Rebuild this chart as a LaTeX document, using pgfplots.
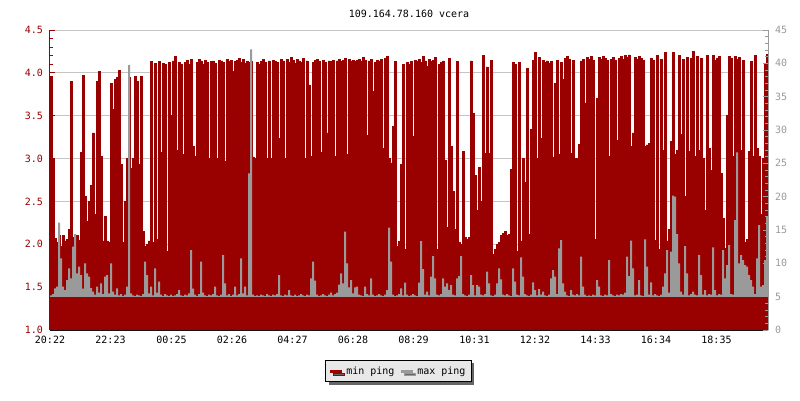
\documentclass[border=0pt]{standalone}
\usepackage{fontspec}
\setmainfont{DejaVu Sans Mono}
\usepackage{pgfplots}
\pgfplotsset{compat=1.18}
\usepackage{pgfplotstable}
\usetikzlibrary{shadows}
\definecolor{minred}{HTML}{990000}
\definecolor{maxgray}{HTML}{9A9A9A}
\definecolor{gridgray}{HTML}{C4C4C4}
\definecolor{leggray}{HTML}{E8E8E8}
\definecolor{shadowgray}{HTML}{666666}

\pgfplotstableread{
t minp maxp
0 3.96 5.2
4 3.00 5.4
8 2.07 6.25
12 2.02 6.5
16 2.10 16.1
20 1.98 10.75
24 2.10 6.5
28 2.04 6.0
32 2.06 7.5
36 2.17 9.25
40 3.90 7.75
44 2.08 12.5
48 2.06 14.4
52 2.10 8.5
56 2.05 9.5
60 3.07 8.25
64 3.97 6.2
68 2.56 10.0
72 2.27 8.5
76 2.50 8.0
80 2.69 6.3
84 3.30 5.75
88 2.35 5.3
92 3.90 6.5
96 4.02 5.6
100 3.03 7.0
104 2.04 5.4
108 2.33 8.0
112 2.04 8.25
116 2.02 5.5
120 3.88 10.0
124 3.57 5.75
128 3.92 5.3
132 3.95 6.25
136 4.03 5.2
140 2.93 5.4
144 2.02 5.1
148 2.50 5.3
152 3.00 6.5
156 3.95 39.75
160 2.89 5.5
164 3.00 5.2
168 3.96 5.1
172 3.90 5.3
176 2.93 5.2
180 3.96 5.1
184 2.15 5.4
188 1.98 10.25
192 2.00 8.25
196 2.04 5.5
200 4.13 6.5
204 2.02 5.2
208 4.11 9.25
212 2.06 5.6
216 4.13 7.25
220 3.07 5.3
224 4.11 5.1
228 4.10 5.4
232 1.92 5.2
236 4.12 5.1
240 3.50 5.3
244 4.14 5.1
248 4.19 5.2
252 3.10 5.4
256 4.12 6.0
260 4.10 5.2
264 3.05 5.1
268 4.12 5.3
272 4.15 5.2
276 4.10 5.5
280 4.16 12.0
284 3.14 6.2
288 3.03 5.3
292 4.12 5.1
296 4.16 5.4
300 4.14 10.25
304 4.10 5.6
308 4.15 5.2
312 4.12 5.1
316 3.00 5.3
320 4.13 5.2
324 4.14 5.4
328 4.11 6.5
332 3.00 5.2
336 4.15 5.1
340 4.14 5.3
344 4.12 11.25
348 2.97 7.0
352 4.16 5.2
356 4.13 5.4
360 4.15 5.1
364 4.02 5.3
368 4.13 6.5
372 4.15 5.2
376 4.17 5.4
380 4.12 10.75
384 4.16 5.5
388 4.11 6.5
392 4.13 5.2
396 4.12 23.5
400 4.13 42.1
404 3.02 5.3
408 3.00 5.1
412 4.12 5.2
416 4.10 5.1
420 4.13 5.3
424 4.16 5.2
428 4.12 5.1
432 3.00 5.4
436 4.14 5.2
440 3.00 5.1
444 4.15 5.3
448 4.13 5.2
452 4.12 5.4
456 3.24 8.25
460 4.16 5.2
464 4.14 5.1
468 3.00 5.3
472 4.16 5.2
476 4.12 6.0
480 4.18 5.2
484 4.15 5.1
488 4.11 5.3
492 4.16 5.1
496 4.14 5.2
500 4.12 5.4
504 4.17 5.2
508 3.00 5.1
512 4.14 5.3
516 3.86 5.2
520 3.03 7.75
524 4.12 10.25
528 4.15 7.4
532 4.16 5.3
536 4.13 5.1
540 3.07 5.2
544 4.15 5.4
548 4.12 5.2
552 3.30 5.1
556 4.14 5.3
560 4.13 5.6
564 4.15 5.2
568 3.03 5.4
572 4.14 5.6
576 4.16 6.8
580 4.13 8.5
584 4.15 7.0
588 4.17 14.75
592 3.05 10.0
596 4.16 6.4
600 4.14 7.5
604 4.15 5.5
608 4.13 6.4
612 4.15 6.5
616 4.16 5.3
620 4.14 5.2
624 4.18 5.1
628 4.15 6.5
632 3.27 5.4
636 4.14 5.2
640 4.16 7.75
644 3.78 5.3
648 4.12 5.1
652 4.15 5.2
656 4.14 5.4
660 4.16 5.2
664 3.12 5.1
668 4.17 5.3
672 4.19 6.0
676 3.00 15.35
680 2.95 10.25
684 3.38 5.3
688 4.13 5.1
692 1.98 5.2
696 2.03 5.4
700 2.93 6.25
704 4.10 5.2
708 1.94 7.1
712 4.12 5.3
716 4.10 5.1
720 4.13 5.2
724 3.26 5.4
728 4.15 5.2
732 4.13 5.1
736 4.16 7.1
740 4.12 13.35
744 4.19 9.15
748 4.14 5.3
752 4.08 5.75
756 4.16 5.2
760 4.13 8.0
764 4.15 11.1
768 4.18 7.75
772 1.94 5.3
776 4.10 5.2
780 4.12 5.4
784 4.14 7.75
788 2.98 6.5
792 2.20 7.0
796 4.17 6.0
800 3.14 6.75
804 2.62 5.3
808 2.17 5.2
812 4.13 7.75
816 2.02 8.1
820 2.00 11.1
824 3.08 5.4
828 2.08 5.2
832 2.06 5.1
836 2.08 5.3
840 4.14 8.25
844 3.53 6.75
848 2.80 5.2
852 2.40 6.75
856 2.90 6.5
860 2.50 5.3
864 4.20 5.2
868 3.06 5.4
872 4.07 8.75
876 3.06 7.0
880 4.15 5.2
884 1.88 5.1
888 1.94 5.3
892 2.00 7.0
896 2.02 9.25
900 2.10 7.6
904 2.13 5.3
908 2.15 5.2
912 2.10 5.4
916 2.12 5.2
920 2.87 5.1
924 4.12 9.25
928 4.10 7.25
932 1.92 5.3
936 4.12 5.2
940 2.04 10.9
944 3.00 8.0
948 2.72 5.4
952 4.05 5.2
956 2.12 5.1
960 3.34 5.3
964 4.15 7.15
968 4.24 6.0
972 3.00 5.2
976 4.18 6.15
980 3.24 5.3
984 4.15 5.75
988 4.12 5.2
992 4.14 5.1
996 4.11 5.3
1000 4.13 7.75
1004 3.02 9.0
1008 3.88 8.0
1012 4.15 5.4
1016 3.05 12.25
1020 4.12 13.5
1024 3.92 7.0
1028 4.17 5.75
1032 4.19 5.2
1036 4.16 5.1
1040 3.06 6.0
1044 4.15 5.3
1048 3.00 5.2
1052 3.00 5.4
1056 3.17 5.2
1060 4.14 11.0
1064 4.16 6.5
1068 3.65 5.3
1072 4.18 5.1
1076 4.16 5.2
1080 4.19 5.1
1084 4.15 5.3
1088 2.06 5.2
1092 3.70 7.5
1096 4.18 6.5
1100 4.16 5.2
1104 4.19 5.1
1108 4.17 5.3
1112 4.15 5.2
1116 3.03 10.5
1120 4.16 5.4
1124 4.18 5.2
1128 4.15 5.1
1132 3.21 5.3
1136 4.17 5.2
1140 4.19 5.4
1144 4.16 5.3
1148 4.20 5.6
1152 4.18 11.0
1156 4.21 8.1
1160 3.14 13.4
1164 3.30 9.25
1168 4.18 5.2
1172 4.16 5.3
1176 4.19 7.5
1180 4.17 5.2
1184 4.15 5.1
1188 3.14 13.6
1192 3.16 9.5
1196 3.18 5.3
1200 4.17 7.15
1204 4.15 5.2
1208 2.05 5.4
1212 4.20 5.2
1216 1.94 5.1
1220 4.16 5.3
1224 3.10 6.5
1228 4.24 8.5
1232 2.04 12.0
1236 2.17 5.6
1240 3.20 11.75
1244 4.24 20.15
1248 3.05 20.0
1252 3.10 14.4
1256 4.20 10.0
1260 3.28 5.75
1264 4.16 5.3
1268 2.56 12.6
1272 4.18 8.5
1276 3.08 5.2
1280 4.17 5.4
1284 4.25 5.75
1288 3.03 5.3
1292 4.19 5.2
1296 3.10 11.25
1300 4.17 8.25
1304 3.00 5.3
1308 2.40 6.0
1312 4.20 5.2
1316 3.12 5.4
1320 2.86 5.3
1324 4.20 12.4
1328 4.15 6.0
1332 4.17 5.2
1336 4.19 5.4
1340 2.83 5.3
1344 2.30 12.0
1348 1.95 7.75
1352 3.50 9.75
1356 4.19 12.75
1360 4.17 5.4
1364 3.03 5.3
1368 4.19 16.5
1372 4.16 26.65
1376 4.18 10.0
1380 3.10 11.25
1384 4.15 10.5
1388 2.02 9.75
1392 2.06 9.5
1396 3.08 8.25
1400 4.13 7.5
1404 3.03 6.5
1408 4.20 5.4
1412 3.12 10.75
1416 3.03 15.75
1420 2.35 6.5
1424 3.00 6.75
1428 4.10 10.5
1432 4.22 17.0
1436 4.22 17.0
}\pingdata

\begin{document}
\begin{tikzpicture}[font=\fontsize{10}{12}\selectfont]
\path[use as bounding box] (0pt,0pt) rectangle (800pt,400pt);
\begin{axis}[
  at={(50pt,70pt)}, anchor=south west,
  scale only axis, width=718pt, height=300pt,
  xmin=0, xmax=1436, ymin=1, ymax=4.5,
  axis x line*=bottom, axis y line*=left,
  x axis line style={black, -, line width=1pt},
  y axis line style={minred, -, line width=1pt},
  axis on top,
  tick align=inside,
  major tick length=5pt, minor tick length=3pt,
  xtick={0,121,243,364,485,606,727,849,970,1091,1212,1333},
  xticklabels={20:22,22:23,00:25,02:26,04:27,06:28,08:29,10:31,12:32,14:33,16:34,18:35},
  xtick style={black, line width=0.8pt},
  xticklabel style={black, yshift=-3pt},
  ytick={1,1.5,2,2.5,3,3.5,4,4.5},
  minor y tick num=4,
  ytick style={minred, line width=0.8pt},
  yticklabel style={minred, xshift=-3.5pt, /pgf/number format/.cd, fixed, fixed zerofill, precision=1},
  tick label style={font=\fontsize{10}{12}\selectfont},
  /pgf/number format/assume math mode=true,
  legend image code/.code={\fill[#1] (0pt,-1pt) rectangle (11pt,1pt);},
  legend columns=2,
  legend style={at={(0.4854,-0.1367)}, anchor=center, draw=black, fill=leggray,
    line width=0.8pt, font=\fontsize{10}{12}\selectfont,
    inner xsep=4pt, inner ysep=4pt,
    nodes={inner xsep=2pt, inner ysep=2pt},
    drop shadow={shadow xshift=3pt, shadow yshift=-3pt, fill=shadowgray, opacity=1},
    /tikz/every odd column/.append style={column sep=3pt},
    /tikz/every even column/.append style={column sep=4pt}},
]
\addplot[gridgray, line width=0.8pt, forget plot] coordinates {(0,1.5) (1436,1.5)};
\addplot[gridgray, line width=0.8pt, forget plot] coordinates {(0,2.0) (1436,2.0)};
\addplot[gridgray, line width=0.8pt, forget plot] coordinates {(0,2.5) (1436,2.5)};
\addplot[gridgray, line width=0.8pt, forget plot] coordinates {(0,3.0) (1436,3.0)};
\addplot[gridgray, line width=0.8pt, forget plot] coordinates {(0,3.5) (1436,3.5)};
\addplot[gridgray, line width=0.8pt, forget plot] coordinates {(0,4.0) (1436,4.0)};
\addplot[gridgray, line width=1.2pt, forget plot] coordinates {(0,4.5) (1436,4.5)};
\addplot[const plot, fill=minred, draw=minred, line width=0.5pt, forget plot] table[x=t, y=minp] {\pingdata} \closedcycle;
\addlegendimage{minred}
\addlegendentry{min ping}
\addlegendimage{maxgray}
\addlegendentry{max ping\hspace{12pt}}
\end{axis}
\begin{axis}[
  at={(50pt,70pt)}, anchor=south west,
  scale only axis, width=718pt, height=300pt,
  xmin=0, xmax=1436, ymin=0, ymax=45,
  axis x line=none, axis y line*=right,
  y axis line style={maxgray, -, line width=1pt},
  axis on top,
  tick align=inside,
  major tick length=5pt, minor tick length=3pt,
  ytick={0,5,10,15,20,25,30,35,40,45},
  minor y tick num=4,
  ytick style={maxgray, line width=0.8pt},
  yticklabel style={maxgray, xshift=3.5pt},
  tick label style={font=\fontsize{10}{12}\selectfont},
  /pgf/number format/assume math mode=true,
]
\addplot[const plot, fill=maxgray, draw=none] table[x=t, y=maxp] {\pingdata} \closedcycle;
\addplot[fill=minred, draw=none] coordinates {(0,4.95) (1436,4.95)} \closedcycle;
\end{axis}
\node[anchor=base] at (409pt,382pt) {109.164.78.160 vcera};
\end{tikzpicture}
\end{document}
